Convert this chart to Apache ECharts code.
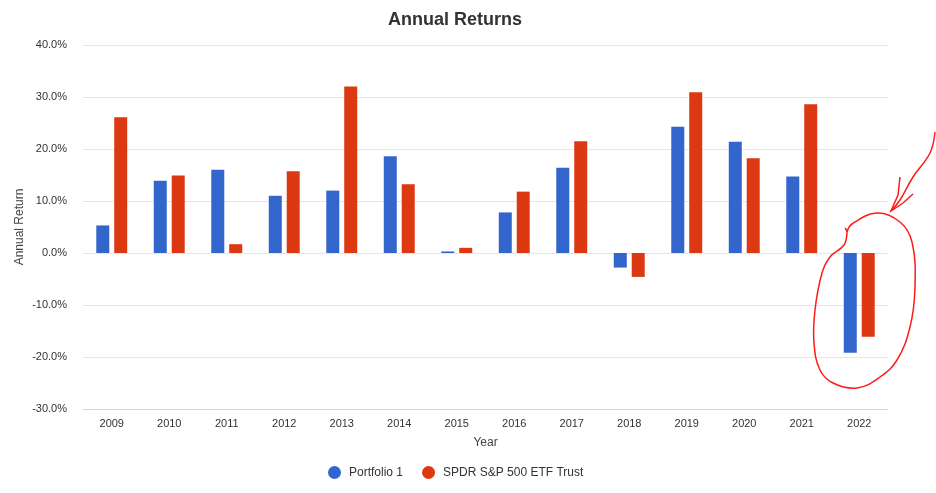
<!DOCTYPE html>
<html lang="en">
<head>
    <meta charset="UTF-8">
    <title>Annual Returns</title>
    <script type="text/javascript" src="https://cdn.jsdelivr.net/npm/echarts@6/dist/echarts.min.js"></script>
    <style>
        html, body { margin: 0; padding: 0; background: #fff; }
    </style>
</head>
<body>
    <div id="main" style="width: 936px;height:493px;"></div>
    <script type="text/javascript">
        // values (%)
        const years = ['2009', '2010', '2011', '2012', '2013', '2014', '2015',
                       '2016', '2017', '2018', '2019', '2020', '2021', '2022'];
        const portfolio1 = [5.3, 13.9, 16.0, 11.0, 12.0, 18.6, 0.3,
                            7.8, 16.4, -2.8, 24.3, 21.4, 14.7, -19.2];
        const spdr = [26.1, 14.9, 1.7, 15.7, 32.0, 13.2, 1.0,
                      11.8, 21.5, -4.6, 30.9, 18.2, 28.6, -16.1];
        const seriesNames = ['Portfolio 1', 'SPDR S&P 500 ETF Trust'];

        const font = 'Arial, "Liberation Sans", Helvetica, sans-serif';
        const myChart = echarts.init(document.getElementById('main'));

        // hand drawn loop and arrow around 2022
        const loopPoints = [
            [847, 232], [852, 224], [877, 213], [900, 222], [912, 242],
            [915, 287], [910, 327], [897, 360], [880, 377], [857, 388],
            [833, 383], [820, 370], [814, 343], [815, 310], [822, 273],
            [830, 257], [844, 245], [847, 232], [845, 228]
        ];
        const arrowPoints = [[935, 132], [930, 153], [913, 177], [900, 200], [891, 211]];
        const headPoints = [[900, 177], [898, 195], [891, 211], [903, 203], [913, 194]];

        option = {
            animation: false,
            title: {
                text: 'Annual Returns',
                left: 383,
                top: 6,
                textStyle: { fontFamily: font, fontSize: 18, fontWeight: 'bold', color: '#333' }
            },
            legend: {
                bottom: 9,
                left: 323,
                icon: 'circle',
                itemWidth: 13,
                itemHeight: 13,
                itemGap: 19,
                textStyle: { fontFamily: font, fontSize: 12, color: '#333', padding: [0, 0, 0, 3] },
                data: seriesNames
            },
            grid: { left: 83, right: 48, top: 45, bottom: 84 },
            xAxis: {
                type: 'category',
                data: years,
                name: 'Year',
                nameLocation: 'middle',
                nameGap: 28,
                nameTextStyle: { fontFamily: font, fontSize: 12, color: '#444' },
                axisLine: { onZero: false, lineStyle: { color: '#ccd6eb' } },
                axisTick: { show: false },
                axisLabel: { fontFamily: font, fontSize: 11, color: '#333', margin: 9 }
            },
            yAxis: {
                type: 'value',
                min: -30,
                max: 40,
                interval: 10,
                name: 'Annual Return',
                nameLocation: 'middle',
                nameGap: 57,
                nameMoveOverlap: false,
                nameTextStyle: { fontFamily: font, fontSize: 12, color: '#444' },
                axisLine: { show: false },
                axisTick: { show: false },
                splitLine: { lineStyle: { color: '#e6e6e6' } },
                axisLabel: {
                    fontFamily: font, fontSize: 11, color: '#333', margin: 16,
                    formatter: function (v) { return v.toFixed(1) + '%'; }
                }
            },
            series: [{
                name: seriesNames[0],
                type: 'bar',
                data: portfolio1,
                barWidth: 13,
                barGap: '38%',
                itemStyle: { color: '#3366cc' }
            }, {
                name: seriesNames[1],
                type: 'bar',
                data: spdr,
                barWidth: 13,
                itemStyle: { color: '#dc3912' }
            }],
            graphic: [{
                type: 'polyline',
                shape: { points: loopPoints, smooth: 0.4 },
                style: { stroke: '#ff1a1a', lineWidth: 1.5, fill: null },
                z: 100
            }, {
                type: 'polyline',
                shape: { points: arrowPoints, smooth: 0.4 },
                style: { stroke: '#ff1a1a', lineWidth: 1.5, fill: null },
                z: 100
            }, {
                type: 'polyline',
                shape: { points: headPoints },
                style: { stroke: '#ff1a1a', lineWidth: 1.5, fill: null },
                z: 100
            }]
        };
        myChart.setOption(option);
    </script>
</body>
</html>
